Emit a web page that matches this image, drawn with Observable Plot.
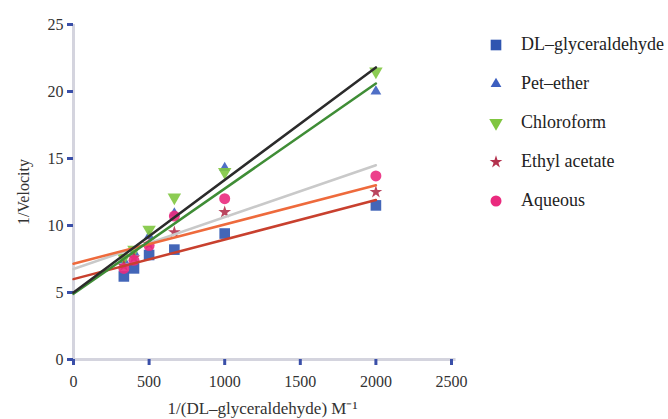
<!DOCTYPE html>
<html>
<head>
<meta charset="utf-8">
<script src="https://cdn.jsdelivr.net/npm/d3@7"></script>
<script src="https://cdn.jsdelivr.net/npm/@observablehq/plot@0.6"></script>
<style>
  html, body { margin: 0; padding: 0; background: #fff; }
  #wrap { position: relative; width: 668px; height: 419px; overflow: hidden; }
  #wrap svg text { font-family: "Liberation Serif", "Times New Roman", serif !important; }
  #legend { position: absolute; left: 486px; top: 25px; font-family: "Liberation Serif", "Times New Roman", serif; font-size: 18px; color: #222; }
  #legend .row { height: 39px; display: flex; align-items: center; }
  #legend svg { width: 20px; height: 20px; margin-right: 15px; }
</style>
</head>
<body>
<div id="wrap"><div id="legend"></div></div>
<script>
// concentrations (1/[S], M^-1)
const xs = [333, 400, 500, 667, 1000, 2000];
const seriesNames = ["DL\u2013glyceraldehyde", "Pet\u2013ether", "Chloroform", "Ethyl acetate", "Aqueous"];
const glyceraldehyde = [6.2, 6.8, 7.8, 8.2, 9.4, 11.5];
const petEther = [7.4, 8.0, 9.2, 10.9, 14.3, 20.0];
const chloroform = [7.6, 8.2, 9.7, 12.1, 14.0, 21.5];
const ethylAcetate = [7.0, 7.6, 8.6, 9.5, 11.0, 12.5];
const aqueous = [6.8, 7.4, 8.5, 10.7, 12.0, 13.7];

// trend lines: value at x = 0 and at x = 2000
const lineX = [0, 2000];
const lineNames = ["Aqueous", "Ethyl acetate", "DL\u2013glyceraldehyde", "Pet\u2013ether", "Chloroform"];
const lineStart = [6.75, 7.15, 6.0, 4.9, 5.0];
const lineEnd = [14.5, 13.0, 11.9, 20.6, 21.8];
const lineColors = ["#c9c9c9", "#ee6a3c", "#c8402e", "#3f8d36", "#2b2b2b"];

const xTicks = [0, 500, 1000, 1500, 2000, 2500];
const yTicks = [0, 5, 10, 15, 20, 25];

const styles = {
  "DL\u2013glyceraldehyde": {symbol: "square", fill: "#2f55b0", r: 6, rotate: 0},
  "Pet\u2013ether": {symbol: "triangle", fill: "#3c5fc0", r: 4, rotate: 0},
  "Chloroform": {symbol: "triangle", fill: "#80c640", r: 5, rotate: 180},
  "Ethyl acetate": {symbol: "star", fill: "#b3324e", r: 4, rotate: 0},
  "Aqueous": {symbol: "circle", fill: "#ea2a7e", r: 5.5, rotate: 0}
};

const seriesValues = [glyceraldehyde, petEther, chloroform, ethylAcetate, aqueous];
const points = [];
seriesNames.forEach((name, i) => {
  seriesValues[i].forEach((v, j) => points.push({series: name, x: xs[j], y: v}));
});
const lines = [];
lineNames.forEach((name, i) => {
  lines.push({series: name, x: lineX[0], y: lineStart[i], c: lineColors[i]});
  lines.push({series: name, x: lineX[1], y: lineEnd[i], c: lineColors[i]});
});

const font = "'Liberation Serif', 'Times New Roman', serif";
const dotMarks = seriesNames.map(name => {
  const s = styles[name];
  return Plot.dot(points.filter(d => d.series === name), {
    x: "x", y: "y", symbol: () => s.symbol, fill: s.fill, r: s.r, rotate: s.rotate, fillOpacity: 0.9
  });
});

const chart = Plot.plot({
  width: 668,
  height: 419,
  marginLeft: 73,
  marginRight: 217,
  marginTop: 24,
  marginBottom: 60,
  style: {fontFamily: font, fontSize: "16px", color: "#333", background: "transparent"},
  symbol: {type: "identity"},
  x: {domain: [0, 2500]},
  y: {domain: [0, 25]},
  marks: [
    Plot.ruleX([0], {stroke: "#d4d4de", strokeWidth: 3}),
    Plot.ruleY([0], {stroke: "#d4d4de", strokeWidth: 3, x1: 0, x2: 2530}),
    Plot.axisX({ticks: xTicks, tickSize: 6, tickPadding: 10, stroke: "#3a4fa8", strokeWidth: 3, tickFormat: d => String(d),
      label: null, fontSize: 16}),
    Plot.axisX({ticks: [], label: "1/(DL\u2013glyceraldehyde) M\u207B\u00B9", labelAnchor: "center", labelArrow: "none", labelOffset: 54, fontSize: 17}),
    Plot.axisY({ticks: yTicks, tickSize: 6, tickPadding: 4, stroke: "#3a4fa8", strokeWidth: 3, tickFormat: d => String(d),
      label: "1/Velocity", labelAnchor: "center", labelArrow: "none", labelOffset: 56, fontSize: 16}),
    ...dotMarks,
    Plot.line(lines, {x: "x", y: "y", z: "series", stroke: "c", strokeWidth: 2.5})
  ]
});
document.getElementById("wrap").prepend(chart);

// legend
const legend = d3.select("#legend");
seriesNames.forEach(name => {
  const s = styles[name];
  const row = legend.append("div").attr("class", "row");
  const svg = row.append("svg").attr("viewBox", "-10 -10 20 20");
  const size = Math.PI * s.r * s.r;
  const type = {square: d3.symbolSquare, triangle: d3.symbolTriangle, star: d3.symbolStar, circle: d3.symbolCircle}[s.symbol];
  svg.append("path").attr("d", d3.symbol(type, size)()).attr("fill", s.fill).attr("transform", `rotate(${s.rotate})`);
  row.append("span").text(name);
});
</script>
</body>
</html>
